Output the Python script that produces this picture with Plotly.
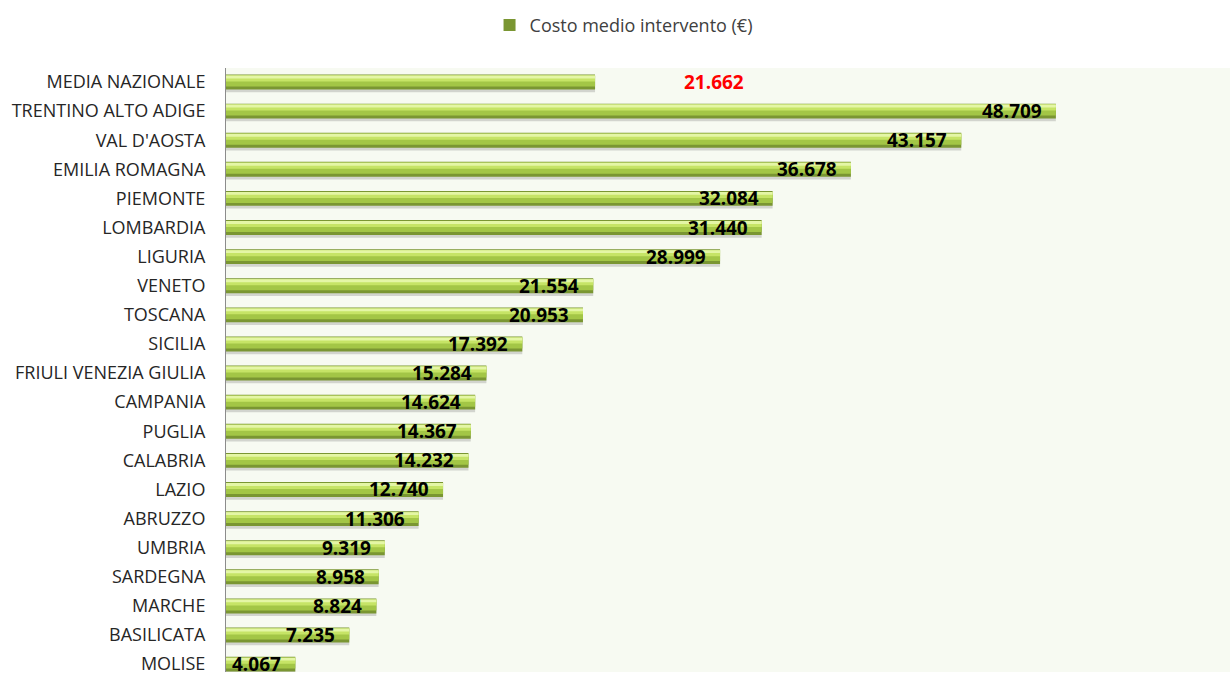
import plotly.graph_objects as go

categories = ["MEDIA NAZIONALE", "TRENTINO ALTO ADIGE", "VAL D'AOSTA", "EMILIA ROMAGNA",
              "PIEMONTE", "LOMBARDIA", "LIGURIA", "VENETO", "TOSCANA", "SICILIA",
              "FRIULI VENEZIA GIULIA", "CAMPANIA", "PUGLIA", "CALABRIA", "LAZIO",
              "ABRUZZO", "UMBRIA", "SARDEGNA", "MARCHE", "BASILICATA", "MOLISE"]
values = [21662, 48709, 43157, 36678, 32084, 31440, 28999, 21554, 20953, 17392,
          15284, 14624, 14367, 14232, 12740, 11306, 9319, 8958, 8824, 7235, 4067]
series_name = "Costo medio intervento (€)"

FONT = "Open Sans"
fig = go.Figure()

# layered bars to imitate the cylinder gradient
layers = [
    ("rgba(0,0,0,0.15)", 0.00, 0.35, False),
    ("#7a9632", -0.256, 0.512, True),
    ("#a3c646", -0.222, 0.376, False),
    ("#c6e466", -0.222, 0.205, False),
    ("#e4f6a6", -0.222, 0.10, False),
]
for color, off, w, legend in layers:
    fig.add_trace(go.Bar(
        y=categories, x=values, orientation="h",
        marker=dict(color=color, line=dict(width=0)),
        offset=off, width=w, name=series_name, showlegend=legend,
        hoverinfo="skip" if not legend else None,
    ))

def fmt(v):
    return f"{v:,.0f}".replace(",", ".")

annotations = []
for i, (c, v) in enumerate(zip(categories, values)):
    if i == 0:
        annotations.append(dict(x=v + 7000, y=c, text=fmt(v), showarrow=False,
                                xanchor="center", yanchor="middle",
                                font=dict(family=FONT, size=19, color="#ff0000", weight="bold")))
    else:
        annotations.append(dict(x=v, y=c, text=fmt(v), showarrow=False,
                                xanchor="right", yanchor="middle", xshift=-12,
                                font=dict(family=FONT, size=19, color="#000000", weight="bold")))

fig.update_layout(
    width=1230, height=675,
    margin=dict(l=226, r=0, t=68, b=0),
    paper_bgcolor="white", plot_bgcolor="#f7faf2",
    barmode="overlay",
    separators=",.",
    annotations=annotations,
    showlegend=True,
    legend=dict(orientation="h", xref="container", x=0.398, xanchor="left",
                yref="container", y=0.99, yanchor="top",
                font=dict(family=FONT, size=18, color="#404040"),
                itemwidth=30),
    xaxis=dict(range=[0, 58930], visible=False, showgrid=False, zeroline=False, fixedrange=True),
    yaxis=dict(categoryorder="array", categoryarray=categories,
               range=[20.27, -0.48], showgrid=False, zeroline=False,
               showline=True, linecolor="#8c8c8c", linewidth=1,
               ticks="", ticklabelstandoff=16,
               tickfont=dict(family=FONT, size=18, color="#262626")),
)

fig.write_html("out.html")
